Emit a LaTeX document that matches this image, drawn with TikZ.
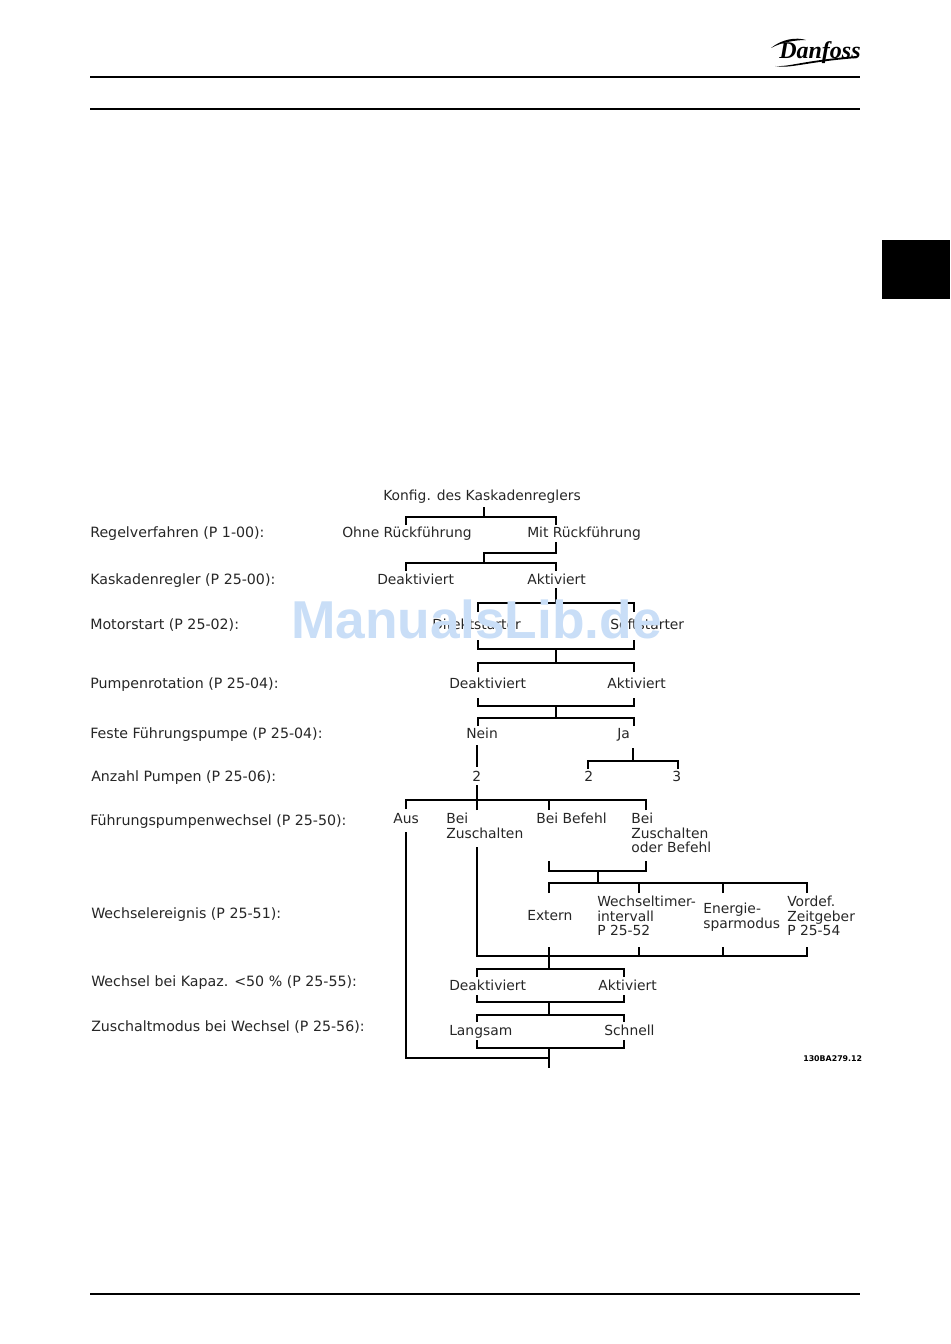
\documentclass[tikz,border=0pt]{standalone}
\usepackage{fontspec}
\setmainfont{DejaVu Sans}
\newfontfamily\wmfont{Liberation Sans}
\newfontfamily\logofont{Liberation Serif}
\definecolor{wmblue}{HTML}{C9DEF7}
\tikzset{
  txt/.style={anchor=base west,inner sep=0pt,font=\fontsize{10.4}{10.75}\selectfont,align=left,text=black!85},
  lab/.style={txt,font=\fontsize{10.65}{10.75}\selectfont},
  conn/.style={draw=black,line width=1.1pt,line cap=butt,line join=miter},
  rulebar/.style={draw=black,line width=1.5pt}
}
\begin{document}
\begin{tikzpicture}[x=0.75pt,y=-0.75pt]
\useasboundingbox (0,0) rectangle (950,1344);
% page furniture
\coordinate (rt1a) at (90,77); \coordinate (rt1b) at (860,77);
\coordinate (rt2a) at (90,109); \coordinate (rt2b) at (860,109);
\coordinate (rt3a) at (90,1294); \coordinate (rt3b) at (860,1294);
\draw[rulebar] (rt1a) -- (rt1b);
\draw[rulebar] (rt2a) -- (rt2b);
\draw[rulebar] (rt3a) -- (rt3b);
\fill[black] (882,240) rectangle (950,299);
% logo
\node[anchor=base west,inner sep=0pt,font=\logofont\bfseries\itshape\fontsize{18}{18}\selectfont] (logo) at (779,59) {Danfoss};
\fill[black] (771,48) .. controls (782,39) and (796,37) .. (806,40) .. controls (796,40) and (782,42) .. (771,48) -- cycle;
\fill[black] (775,66) .. controls (790,67) and (800,61) .. (857,56) -- (857,58) .. controls (805,62) and (790,69) .. (775,66) -- cycle;
% left labels
\node[lab] (l1) at (90,537) {Regelverfahren (P 1-00):};
\node[lab] (l2) at (90,584) {Kaskadenregler (P 25-00):};
\node[lab] (l3) at (90,629) {Motorstart (P 25-02):};
\node[lab] (l4) at (90,688) {Pumpenrotation (P 25-04):};
\node[lab] (l5) at (90,738) {Feste Führungspumpe (P 25-04):};
\node[lab] (l6) at (91,781) {Anzahl Pumpen (P 25-06):};
\node[lab] (l7) at (90,825) {Führungspumpenwechsel (P 25-50):};
\node[lab] (l8) at (91,918) {Wechselereignis (P 25-51):};
\node[lab] (l9) at (91,986) {Wechsel bei Kapaz. <50 \% (P 25-55):};
\node[lab] (l10) at (91,1031) {Zuschaltmodus bei Wechsel (P 25-56):};
% tree texts
\node[txt] (konfig) at (383,500) {Konfig. des Kaskadenreglers};
\node[txt] (ohne) at (342,537) {Ohne Rückführung};
\node[txt] (mit) at (527,537) {Mit Rückführung};
\node[txt] (kd) at (377,584) {Deaktiviert};
\node[txt] (ka) at (527,584) {Aktiviert};
\node[txt] (direkt) at (432,629) {Direktstarter};
\node[txt] (soft) at (610,629) {Softstarter};
\node[txt] (pd) at (449,688) {Deaktiviert};
\node[txt] (pa) at (607,688) {Aktiviert};
\node[txt] (nein) at (466,738) {Nein};
\node[txt] (ja) at (617,738) {Ja};
\node[txt] (zwei) at (472,781) {2};
\node[txt] (zweib) at (584,781) {2};
\node[txt] (drei) at (672,781) {3};
\node[txt] (aus) at (393,823) {Aus};
\node[txt,anchor=north west] (bz) at (446,813) {Bei\\Zuschalten};
\node[txt] (bb) at (536,823) {Bei Befehl};
\node[txt,anchor=north west] (bzo) at (631,813) {Bei\\Zuschalten\\oder Befehl};
\node[txt] (ext) at (527,920) {Extern};
\node[txt,anchor=north west] (wt) at (597,896) {Wechseltimer-\\intervall\\P 25-52};
\node[txt,anchor=north west] (es) at (703,903) {Energie-\\sparmodus};
\node[txt,anchor=north west] (vz) at (787,896) {Vordef.\\Zeitgeber\\P 25-54};
\node[txt] (wd) at (449,990) {Deaktiviert};
\node[txt] (wa) at (598,990) {Aktiviert};
\node[txt] (lang) at (449,1035) {Langsam};
\node[txt] (schn) at (604,1035) {Schnell};
\node[anchor=base west,inner sep=0pt,font=\bfseries\fontsize{5.9}{7}\selectfont] (code) at (803,1061) {130BA279.12};
% junctions and tips
\coordinate (b1) at (484,517);
\coordinate (b2t) at (556,553); \coordinate (b2) at (484,553); \coordinate (b2u) at (484,563);
\coordinate (b3) at (556,603);
\coordinate (b4) at (556,649); \coordinate (b4u) at (556,663);
\coordinate (b5) at (556,706); \coordinate (b5u) at (556,718);
\coordinate (b6) at (633,761);
\coordinate (b7) at (477,800);
\coordinate (b8) at (598,871); \coordinate (b8u) at (598,883);
\coordinate (b9) at (549,956); \coordinate (b9u) at (549,969);
\coordinate (b10) at (549,1002); \coordinate (b10u) at (549,1015);
\coordinate (b11) at (549,1048); \coordinate (b11e) at (549,1068);
% top level
\draw[conn] (484,507) -- (b1);
\draw[conn] (406,525) |- (b1);
\draw[conn] (556,525) |- (b1);
% Mit -> Kaskadenregler
\draw[conn] (556,542) |- (b2) -- (b2u);
\draw[conn] (406,571) |- (b2u);
\draw[conn] (556,571) |- (b2u);
% Aktiviert -> Motorstart
\draw[conn] (556,588) -- (b3);
\draw[conn] (478,612) |- (b3);
\draw[conn] (634,612) |- (b3);
\draw[conn] (478,640) |- (b4);
\draw[conn] (634,640) |- (b4);
\draw[conn] (b4) -- (b4u);
\draw[conn] (478,672) |- (b4u);
\draw[conn] (634,672) |- (b4u);
\draw[conn] (478,698) |- (b5);
\draw[conn] (634,698) |- (b5);
\draw[conn] (b5) -- (b5u);
\draw[conn] (478,726) |- (b5u);
\draw[conn] (634,726) |- (b5u);
% Nein / Ja
\draw[conn] (477,745) -- (477,767);
\draw[conn] (633,748) -- (b6);
\draw[conn] (588,769) |- (b6);
\draw[conn] (678,769) |- (b6);
% Fuehrungspumpenwechsel
\draw[conn] (477,785) -- (b7);
\draw[conn] (406,809) |- (b7);
\draw[conn] (477,810) -- (b7);
\draw[conn] (549,810) |- (b7);
\draw[conn] (646,810) |- (b7);
% Bei Befehl group
\draw[conn] (549,861) |- (b8);
\draw[conn] (646,861) |- (b8);
\draw[conn] (b8) -- (b8u);
\draw[conn] (549,893) |- (b8u);
\draw[conn] (639,893) |- (b8u);
\draw[conn] (723,893) |- (b8u);
\draw[conn] (807,893) |- (b8u);
% collector
\draw[conn] (477,847) |- (b9);
\draw[conn] (549,947) -- (b9);
\draw[conn] (639,947) |- (b9);
\draw[conn] (723,947) |- (b9);
\draw[conn] (807,947) |- (b9);
\draw[conn] (b9) -- (b9u);
\draw[conn] (477,977) |- (b9u);
\draw[conn] (624,977) |- (b9u);
\draw[conn] (477,995) |- (b10);
\draw[conn] (624,995) |- (b10);
\draw[conn] (b10) -- (b10u);
\draw[conn] (477,1022) |- (b10u);
\draw[conn] (624,1022) |- (b10u);
\draw[conn] (477,1040) |- (b11);
\draw[conn] (624,1040) |- (b11);
\draw[conn] (b11) -- (b11e);
\draw[conn] (406,832) |- (549,1058);
% watermark on top
\node[anchor=base west,inner sep=0pt,text=wmblue,font=\wmfont\bfseries\fontsize{40}{40}\selectfont] (wm) at (291,638) {ManualsLib.de};
\end{tikzpicture}
\end{document}
